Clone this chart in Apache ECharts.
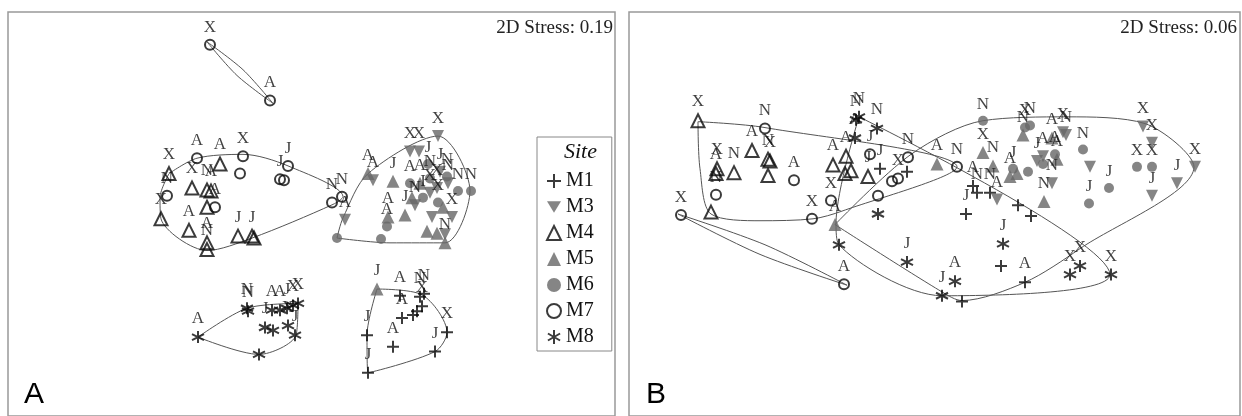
<!DOCTYPE html>
<html>
<head>
<meta charset="utf-8">
<script src="https://cdn.jsdelivr.net/npm/echarts@6/dist/echarts.min.js"></script>
<style>
  html, body { margin: 0; padding: 0; background: #fff; }
  #chart { width: 1242px; height: 416px; }
</style>
</head>
<body>
<div id="chart"></div>
<script>
// ordination scores (plot units), label = sampling month
// panel A
const aM1 = [[400,307,'A'],[420,308,'N'],[422,318,'X'],[417,323,''],[413,327,''],[402,330,'A'],[393,360,'A'],[367,348,'J'],[447,345,'X'],[435,365,'J'],[368,387,'J'],[424,305,'N']];
const aM3 = [[438,141,'X'],[410,157,'X'],[419,157,'X'],[373,187,'A'],[345,228,'A'],[415,213,'N'],[430,200,'X'],[440,178,'J'],[448,190,'N'],[437,195,'X'],[445,243,''],[452,225,'X'],[432,225,'']];
const aM4 = [[169,180,'X'],[161,227,'X'],[192,195,'X'],[207,197,'N'],[211,198,'A'],[220,170,'A'],[207,215,''],[189,239,'A'],[207,252,'A'],[207,259,'N'],[238,245,'J'],[252,245,'J'],[254,247,'']];
const aM5 = [[368,180,'A'],[393,188,'J'],[405,223,'J'],[388,225,'A'],[427,240,''],[437,242,''],[445,252,'N'],[420,190,'A'],[443,215,''],[412,205,''],[377,300,'J']];
const aM6 = [[337,247,''],[381,248,''],[387,235,'A'],[428,170,'J'],[410,190,'A'],[423,205,'I'],[458,198,'N'],[471,198,'N'],[438,210,'X'],[430,185,'N'],[447,183,'N']];
const aM7 = [[210,46,'X'],[270,104,'A'],[197,164,'A'],[243,162,'X'],[240,180,''],[288,172,'J'],[280,186,'J'],[284,187,''],[167,203,'N'],[215,215,'A'],[332,210,'N'],[342,204,'N']];
const aM8 = [[198,350,'A'],[247,320,'N'],[248,323,'N'],[272,322,'A'],[280,322,'A'],[293,317,'X'],[298,315,'X'],[287,320,'J'],[265,340,'J'],[273,343,''],[288,338,'X'],[295,348,'J'],[259,368,'']];
// panel B
const bM1 = [[880,175,'J'],[907,178,''],[973,193,'A'],[977,200,'N'],[990,200,'N'],[966,222,'J'],[1018,213,''],[1031,224,''],[1001,276,''],[962,313,''],[1025,293,'A']];
const bM3 = [[1143,131,'X'],[1152,148,'X'],[1063,137,'X'],[1090,173,''],[1052,190,'N'],[1037,167,'J'],[1043,162,'A'],[997,207,'A'],[1152,203,'J'],[1177,190,'J'],[1195,173,'X'],[1066,140,'N']];
const bM4 = [[698,125,'X'],[752,156,'A'],[768,165,'N'],[770,167,'X'],[717,175,'X'],[734,179,'N'],[768,182,''],[711,220,''],[833,171,'A'],[846,162,'A'],[851,177,''],[845,180,''],[868,183,'J'],[716,180,'A']];
const bM5 = [[835,233,'A'],[937,170,'A'],[983,158,'X'],[993,172,'N'],[1044,209,'N'],[1057,165,'A'],[1010,183,'A'],[1052,143,'A'],[1023,140,'N'],[1017,180,'']];
const bM6 = [[983,125,'N'],[1025,132,'X'],[1030,130,'N'],[1055,160,'A'],[1043,170,''],[1013,175,'J'],[1028,178,''],[1083,155,'N'],[1109,195,'J'],[1089,211,'J'],[1137,173,'X'],[1152,173,'X']];
const bM7 = [[765,133,'N'],[794,187,'A'],[716,202,'N'],[681,223,'X'],[812,227,'X'],[831,208,'X'],[844,295,'A'],[870,160,'J'],[908,163,'N'],[892,188,''],[898,185,'X'],[878,203,''],[957,173,'N']];
const bM8 = [[859,121,'N'],[856,124,'N'],[877,133,'N'],[855,143,'A'],[839,254,''],[878,222,''],[907,272,'J'],[942,307,'J'],[955,292,'A'],[1003,253,'J'],[1070,285,'X'],[1080,276,'X'],[1111,285,'X']];

// similarity contours (outline vertices)
const aHulls = [
  [[207,43],[243,72],[273,107],[237,78],[207,43]],
  [[169,180],[197,164],[243,160],[288,172],[343,204],[333,212],[252,247],[207,260],[161,227],[160,205],[169,180]],
  [[337,247],[343,226],[368,180],[438,141],[470,198],[445,252],[390,252],[337,247]],
  [[198,350],[247,320],[298,315],[296,348],[259,368],[198,350]],
  [[377,300],[422,306],[447,345],[435,365],[368,387],[367,348],[377,300]]
];
const bHulls = [
  [[698,126],[764,132],[957,173],[842,219],[813,227],[760,229],[711,222],[700,175],[698,126]],
  [[678,222],[765,254],[847,296],[760,264],[678,222]],
  [[859,121],[1110,285],[942,307],[839,254],[836,232],[859,121]],
  [[835,233],[942,303],[962,312],[1025,293],[1080,258],[1194,173],[1145,128],[1067,121],[983,125],[911,160],[835,233]]
];

const sites = ['M1','M3','M4','M5','M6','M7','M8'];
const stressA = '2D Stress: 0.19';
const stressB = '2D Stress: 0.06';

const GRAY = '#666';
const INK = '#0a0a0a';
const SERIF = 'Liberation Serif';
const plusPath = 'path://M6,0L6,12M0,6L12,6';
const starPath = 'path://M6,0L6,12M0.8,3L11.2,9M0.8,9L11.2,3';
const downTri = 'path://M0,0L12,0L6,10Z';

const styleOf = {
  M1: { symbol: plusPath, symbolSize: 12, itemStyle: { color: 'transparent', borderColor: INK, borderWidth: 2 } },
  M3: { symbol: downTri, symbolSize: 12, itemStyle: { color: GRAY } },
  M4: { symbol: 'triangle', symbolSize: 13, itemStyle: { color: 'transparent', borderColor: INK, borderWidth: 2 } },
  M5: { symbol: 'triangle', symbolSize: 13, itemStyle: { color: GRAY } },
  M6: { symbol: 'circle', symbolSize: 10, itemStyle: { color: GRAY } },
  M7: { symbol: 'circle', symbolSize: 10, itemStyle: { color: 'transparent', borderColor: INK, borderWidth: 2 } },
  M8: { symbol: starPath, symbolSize: 12, itemStyle: { color: 'transparent', borderColor: INK, borderWidth: 2 } }
};

const panelData = [
  { M1: aM1, M3: aM3, M4: aM4, M5: aM5, M6: aM6, M7: aM7, M8: aM8 },
  { M1: bM1, M3: bM3, M4: bM4, M5: bM5, M6: bM6, M7: bM7, M8: bM8 }
];
const panelHulls = [aHulls, bHulls];

const series = [];
[0, 1].forEach(function (p) {
  panelHulls[p].forEach(function (h) {
    series.push({
      type: 'line', xAxisIndex: p, yAxisIndex: p, data: h,
      smooth: 0.3, symbol: 'none', silent: true, z: 1,
      lineStyle: { color: '#555', width: 1 }
    });
  });
  sites.forEach(function (s) {
    const st = styleOf[s];
    series.push({
      name: s, type: 'scatter', xAxisIndex: p, yAxisIndex: p,
      data: panelData[p][s], symbol: st.symbol, symbolSize: st.symbolSize,
      itemStyle: st.itemStyle, silent: true, z: 3,
      label: {
        show: true, position: 'top', distance: 3,
        formatter: function (d) { return d.value[2]; },
        fontFamily: SERIF, fontSize: 17, color: '#111'
      }
    });
  });
});

const chart = echarts.init(document.getElementById('chart'));
chart.setOption({
  animation: false,
  backgroundColor: '#fff',
  title: [
    { text: stressA, right: 624, top: 14, textStyle: { fontFamily: SERIF, fontSize: 19, fontWeight: 'normal', color: '#222' } },
    { text: stressB, right: 0, top: 14, textStyle: { fontFamily: SERIF, fontSize: 19, fontWeight: 'normal', color: '#222' } },
    { text: 'A', left: 19, top: 375, textStyle: { fontFamily: 'Liberation Sans', fontSize: 30, fontWeight: 'normal', color: '#000' } },
    { text: 'B', left: 641, top: 375, textStyle: { fontFamily: 'Liberation Sans', fontSize: 30, fontWeight: 'normal', color: '#000' } },
    { text: 'Site', left: 559, top: 136, textStyle: { fontFamily: SERIF, fontSize: 22, fontStyle: 'italic', fontWeight: 'normal', color: '#111' } }
  ],
  legend: {
    orient: 'vertical', left: 537, top: 137,
    padding: [34, 18, 4, 9], itemGap: 6, itemWidth: 14, itemHeight: 14,
    borderColor: '#888', borderWidth: 1,
    textStyle: { fontFamily: SERIF, fontSize: 20, color: '#111' },
    selectedMode: false,
    data: sites.map(function (s) {
      return { name: s, icon: styleOf[s].symbol, itemStyle: styleOf[s].itemStyle };
    })
  },
  grid: [
    { left: 8, top: 12, width: 607, height: 420, show: true, borderColor: '#999', borderWidth: 1.5 },
    { left: 629, top: 12, width: 611, height: 420, show: true, borderColor: '#999', borderWidth: 1.5 }
  ],
  xAxis: [
    { type: 'value', gridIndex: 0, min: 8, max: 615, show: false },
    { type: 'value', gridIndex: 1, min: 629, max: 1240, show: false }
  ],
  yAxis: [
    { type: 'value', gridIndex: 0, min: 12, max: 432, inverse: true, show: false },
    { type: 'value', gridIndex: 1, min: 12, max: 432, inverse: true, show: false }
  ],
  series: series
});
</script>
</body>
</html>
